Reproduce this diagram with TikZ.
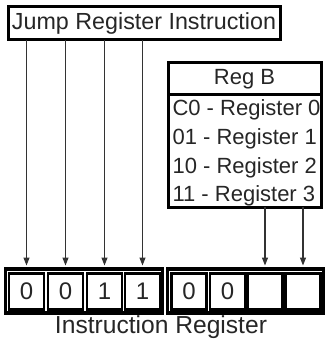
\documentclass[tikz,border=0pt]{standalone}
\usepackage{fontspec}
\setmainfont{Liberation Sans}
\usetikzlibrary{arrows.meta}
\begin{document}
\begin{tikzpicture}[x=1pt,y=-1pt,
  lbl/.style={font=\fontsize{22}{26}\selectfont, text=black!85},
  biglbl/.style={font=\fontsize{24}{28}\selectfont, text=black!85},
  thickbox/.style={draw=black, line width=3pt, inner sep=0pt, outer sep=0pt},
  cellbox/.style={draw=black, line width=2.2pt, inner sep=0pt, outer sep=0pt, minimum width=35pt, minimum height=36pt, biglbl},
  arr/.style={draw=black!80, line width=1.2pt, -{Triangle[length=8pt,width=6pt]}}
]
\useasboundingbox (0,0) rectangle (325,342);
% title
\node[thickbox, lbl, minimum width=272pt, minimum height=33pt] (title) at (144,23.5) {\resizebox{264pt}{!}{Jump Register Instruction}};
% Reg B
\node[thickbox, lbl, minimum width=153pt, minimum height=32pt] (rbh) at (244.5,79) {Reg B};
\node[thickbox, minimum width=153pt, minimum height=112pt, anchor=north] (rbb) at (rbh.south) {};
\node[lbl, anchor=west] (r0) at ([xshift=1pt]rbb.west |- 0,110) {C0 - Register 0};
\node[lbl, anchor=west] (r1) at ([xshift=1pt]rbb.west |- 0,139) {01 - Register 1};
\node[lbl, anchor=west] (r2) at ([xshift=1pt]rbb.west |- 0,168) {10 - Register 2};
\node[lbl, anchor=west] (r3) at ([xshift=1pt]rbb.west |- 0,196) {11 - Register 3};
% register groups
\node[thickbox, line width=3.5pt, minimum width=157pt, minimum height=44pt] (g1) at (84,291) {};
\node[thickbox, line width=3.5pt, minimum width=156pt, minimum height=44pt] (g2) at (245.5,291) {};
% cells
\node[cellbox] (c1) at (26.5,291.5) {0};
\node[cellbox] (c2) at (65.5,291.5) {0};
\node[cellbox] (c3) at (104.5,291.5) {1};
\node[cellbox] (c4) at (142.5,291.5) {1};
\node[cellbox] (c5) at (189,291.5) {0};
\node[cellbox] (c6) at (227.5,291.5) {0};
\node[cellbox] (c7) at (265,291.5) {};
\node[cellbox] (c8) at (303,291.5) {};
\node[biglbl] (irl) at (161,327) {\resizebox{212pt}{!}{Instruction Register}};
% arrows
\foreach \c in {c1,c2,c3,c4}{
  \draw[arr, shorten >=8pt] (title.south -| \c) -- (\c.north);
}
\foreach \c in {c7,c8}{
  \draw[arr, shorten >=8pt] (rbb.south -| \c) -- (\c.north);
}
\end{tikzpicture}
\end{document}
